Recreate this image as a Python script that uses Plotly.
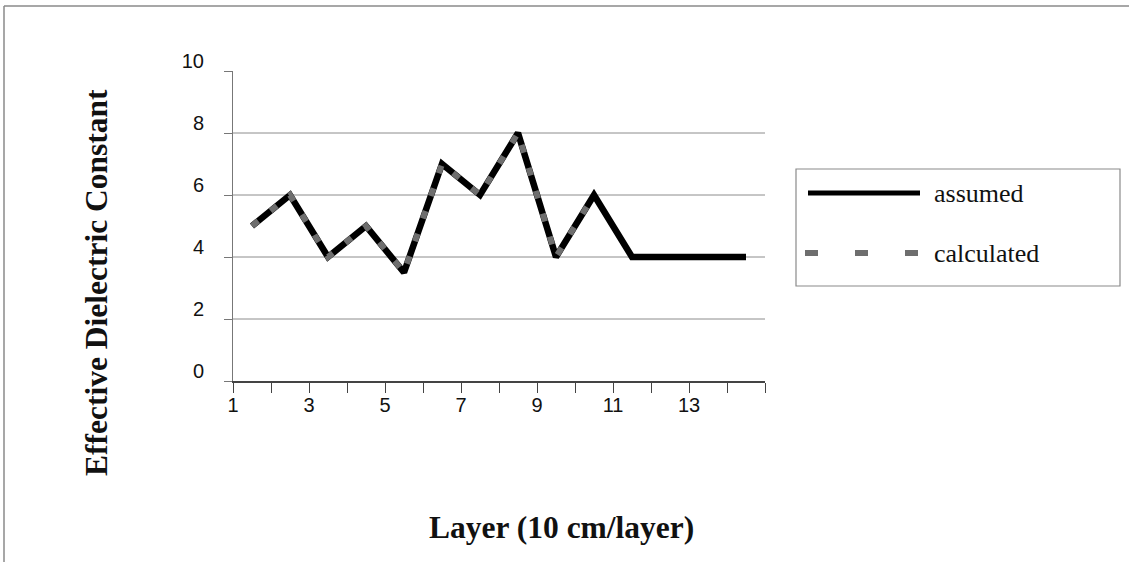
import plotly.graph_objects as go

# Layer profile: effective dielectric constant per 10 cm layer
layers = list(range(1, 15))
assumed = [5, 6, 4, 5, 3.5, 7, 6, 8, 4, 6, 4, 4, 4, 4]
calc_layers = list(range(1, 11))
calculated = [5, 6, 4, 5, 3.5, 7, 6, 8, 4, 6]

x_tick_vals = list(range(1, 16))
x_tick_text = [str(v) if (v % 2 == 1 and v < 15) else "" for v in x_tick_vals]
y_tick_vals = [0, 2, 4, 6, 8, 10]
grid_values = [2, 4, 6, 8]

# plot-area geometry in pixels
W_FIG, H_FIG = 1129, 562
L, R, T, B = 233, 765, 71, 381
PW, PH = R - L, B - T


def px(x):
    return (x - L) / PW


def py(y):
    return (B - y) / PH


# each layer is drawn at the middle of its depth interval
def mid(vals):
    return [v + 0.5 for v in vals]


fig = go.Figure()
fig.add_trace(go.Scatter(
    x=mid(layers), y=assumed, mode="lines", name="assumed",
    line=dict(color="#000000", width=6.5),
))
fig.add_trace(go.Scatter(
    x=mid(calc_layers), y=calculated, mode="lines", name="calculated",
    line=dict(color="#6e6e6e", width=6, dash="8px,16px"),
))

shapes = []
for g in grid_values:
    shapes.append(dict(type="line", xref="paper", yref="y", x0=0, x1=1, y0=g, y1=g,
                       line=dict(color="#8c8c8c", width=1), layer="below"))

# outer frame (top and left edges)
shapes.append(dict(type="line", xref="paper", yref="paper",
                   x0=px(4), x1=px(1129), y0=py(6), y1=py(6),
                   line=dict(color="#8a8a8a", width=1.5)))
shapes.append(dict(type="line", xref="paper", yref="paper",
                   x0=px(4), x1=px(4), y0=py(6), y1=py(562),
                   line=dict(color="#8a8a8a", width=1.5)))

# legend box
shapes.append(dict(type="rect", xref="paper", yref="paper",
                   x0=px(796), x1=px(1120), y0=py(286), y1=py(169),
                   line=dict(color="#8a8a8a", width=1.2), fillcolor="rgba(0,0,0,0)"))
shapes.append(dict(type="line", xref="paper", yref="paper",
                   x0=px(808), x1=px(920), y0=py(193), y1=py(193),
                   line=dict(color="#000000", width=5)))
shapes.append(dict(type="line", xref="paper", yref="paper",
                   x0=px(805), x1=px(918), y0=py(253), y1=py(253),
                   line=dict(color="#6e6e6e", width=6, dash="13px,37px")))

serif = "Liberation Serif, Times New Roman, serif"
annotations = [
    dict(text="assumed", xref="paper", yref="paper", x=px(932), y=py(193),
         xanchor="left", yanchor="middle", showarrow=False,
         font=dict(family=serif, size=26, color="#111111")),
    dict(text="calculated", xref="paper", yref="paper", x=px(932), y=py(253),
         xanchor="left", yanchor="middle", showarrow=False,
         font=dict(family=serif, size=26, color="#111111")),
    dict(text="<b>Effective Dielectric Constant</b>", xref="paper", yref="paper",
         x=px(96), y=py(283), xanchor="center", yanchor="middle", textangle=-90,
         showarrow=False, font=dict(family=serif, size=31.5, color="#111111")),
    dict(text="<b>Layer (10 cm/layer)</b>", xref="paper", yref="paper",
         x=px(561), y=py(527), xanchor="center", yanchor="middle",
         showarrow=False, font=dict(family=serif, size=31.5, color="#111111")),
]

fig.update_layout(
    width=W_FIG, height=H_FIG,
    margin=dict(l=L, r=W_FIG - R, t=T, b=H_FIG - B, pad=0),
    paper_bgcolor="white", plot_bgcolor="white",
    showlegend=False,
    shapes=shapes, annotations=annotations,
    xaxis=dict(
        range=[1, 15], tickmode="array", tickvals=x_tick_vals, ticktext=x_tick_text,
        showgrid=False, zeroline=False, showline=True, linecolor="#444444", linewidth=1.5,
        ticks="outside", ticklen=10, tickcolor="#444444", tickwidth=1,
        ticklabelstandoff=-5,
        tickfont=dict(family="Liberation Sans, Arial, sans-serif", size=20, color="#111111"),
    ),
    yaxis=dict(
        range=[0, 10], tickmode="array", tickvals=y_tick_vals,
        showgrid=False, zeroline=False, showline=True, linecolor="#777777", linewidth=1,
        ticks="outside", ticklen=8, tickcolor="#777777", tickwidth=1,
        ticklabelstandoff=16, ticklabelshift=-10,
        tickfont=dict(family="Liberation Sans, Arial, sans-serif", size=20, color="#111111"),
    ),
)

fig.write_html("out.html")
